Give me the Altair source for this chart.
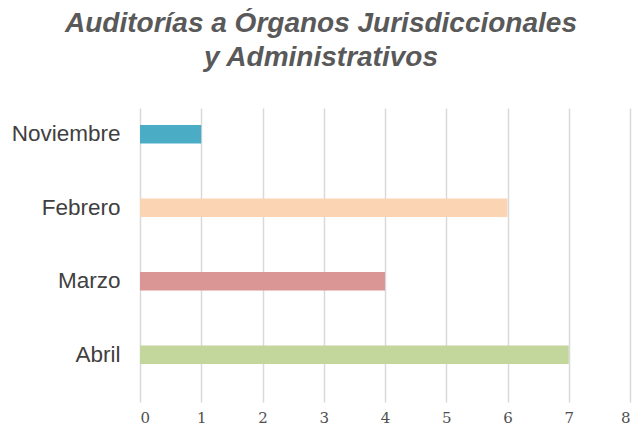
import altair as alt
import pandas as pd

months = ["Noviembre", "Febrero", "Marzo", "Abril"]
counts = [1, 6, 4, 7]
colors = ["#4BACC6", "#FBD4B4", "#D99694", "#C3D69B"]
x_ticks = [0, 1, 2, 3, 4, 5, 6, 7, 8]

df = pd.DataFrame({"mes": months, "n": counts})

bars = alt.Chart(df).mark_bar(cornerRadius=0).encode(
    x=alt.X("n:Q", scale=alt.Scale(domain=[0, 8], nice=False),
            axis=alt.Axis(values=x_ticks, title=None, grid=True, gridColor="#D9D9D9",
                          gridWidth=1.5, domain=False, ticks=False, labelPadding=8,
                          labelFont="DejaVu Serif", labelFontSize=15, labelColor="#505050",
                          format="d")),
    y=alt.Y("mes:N", sort=months,
            scale=alt.Scale(paddingInner=0.748, paddingOuter=0.374, align=0.31),
            axis=alt.Axis(title=None, domain=False, ticks=False, labelPadding=20,
                          labelFont="Liberation Sans", labelFontSize=22.5,
                          labelColor="#404040")),
    color=alt.Color("mes:N", scale=alt.Scale(domain=months, range=colors), legend=None),
)

chart = bars.properties(
    width=490,
    height=294,
    title=alt.TitleParams(
        text=["Auditorías a Órganos Jurisdiccionales", "y Administrativos"],
        font="Liberation Sans", fontSize=28, fontWeight="bold", fontStyle="italic",
        color="#595959", anchor="middle", dx=-64, lineHeight=34, offset=36,
    ),
    autosize=alt.AutoSizeParams(type="none"),
    padding={"left": 132, "top": 100, "right": 4, "bottom": 24},
).configure_view(stroke=None)

chart.save("out.html", embed_options={"renderer": "svg", "actions": False})
